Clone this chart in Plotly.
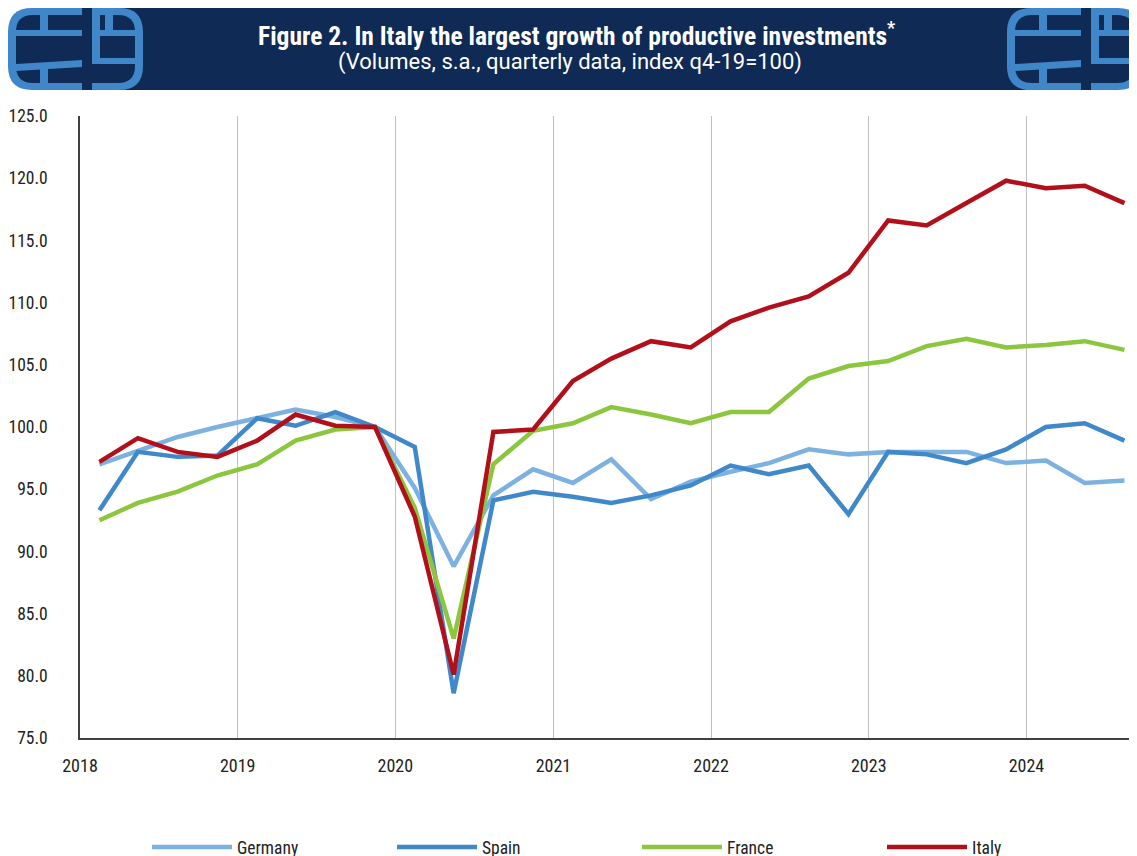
import plotly.graph_objects as go

# ---------------- data ----------------
quarters = ["2018Q1", "2018Q2", "2018Q3", "2018Q4",
            "2019Q1", "2019Q2", "2019Q3", "2019Q4",
            "2020Q1", "2020Q2", "2020Q3", "2020Q4",
            "2021Q1", "2021Q2", "2021Q3", "2021Q4",
            "2022Q1", "2022Q2", "2022Q3", "2022Q4",
            "2023Q1", "2023Q2", "2023Q3", "2023Q4",
            "2024Q1", "2024Q2", "2024Q3"]

germany = [97.0, 98.1, 99.2, 100.0, 100.7, 101.4, 100.8, 100.0,
           95.1, 88.8, 94.5, 96.6, 95.5, 97.4, 94.2, 95.6,
           96.4, 97.1, 98.2, 97.8, 98.0, 98.0, 98.0, 97.1,
           97.3, 95.5, 95.7]
spain = [93.3, 98.0, 97.6, 97.7, 100.7, 100.1, 101.2, 100.0,
         98.4, 78.6, 94.1, 94.8, 94.4, 93.9, 94.5, 95.3,
         96.9, 96.2, 96.9, 93.0, 98.0, 97.8, 97.1, 98.2,
         100.0, 100.3, 98.9]
france = [92.5, 93.9, 94.8, 96.1, 97.0, 98.9, 99.8, 100.0,
          93.5, 83.0, 97.0, 99.7, 100.3, 101.6, 101.0, 100.3,
          101.2, 101.2, 103.9, 104.9, 105.3, 106.5, 107.1, 106.4,
          106.6, 106.9, 106.2]
italy = [97.2, 99.1, 98.0, 97.6, 98.9, 101.0, 100.1, 100.0,
         92.8, 80.1, 99.6, 99.8, 103.7, 105.5, 106.9, 106.4,
         108.5, 109.6, 110.5, 112.4, 116.6, 116.2, 118.0, 119.8,
         119.2, 119.4, 118.0]

series_names = ["Germany", "Spain", "France", "Italy"]
year_ticks = ["2018", "2019", "2020", "2021", "2022", "2023", "2024"]

title_text = "Figure 2. In Italy the largest growth of productive investments<sup>*</sup>"
subtitle_text = "(Volumes, s.a., quarterly data, index q4-19=100)"

# ---------------- styling ----------------
COLORS = ["#7db2e0", "#3f88c9", "#8cc63f", "#b1101b"]
NAVY = "#0f2a55"
LOGO_BLUE = "#3f87c9"
FONT = "Liberation Sans Narrow, Roboto Condensed, Arial Narrow, Roboto, sans-serif"

# page body has an 8px margin: figure origin sits at screen (8, 8)
OFF = 8
W, H = 1129, 900
L, R, T, B = 72, 0, 108, 170
PW, PH = W - L - R, H - T - B


def px(x):  # screen x -> paper
    return (x - OFF - L) / PW


def py(y):  # screen y -> paper
    return (H - B - (y - OFF)) / PH


def q_mid(q):
    y, n = q.split("Q")
    return f"{y}-{3 * int(n) - 1:02d}-15"


xdates = [q_mid(q) for q in quarters]

fig = go.Figure()
for name, vals, col in zip(series_names, [germany, spain, france, italy], COLORS):
    fig.add_trace(go.Scatter(x=xdates, y=vals, mode="lines", name=name,
                             line=dict(color=col, width=4.5)))

shapes = []


def rect(x0, y0, x1, y1, color):
    shapes.append(dict(type="rect", xref="paper", yref="paper",
                       x0=px(x0), x1=px(x1), y0=py(y1), y1=py(y0),
                       fillcolor=color, line=dict(width=0), layer="above"))


def poly(points, color):
    d = "M" + " L".join(f"{px(a):.5f},{py(b):.5f}" for a, b in points) + " Z"
    shapes.append(dict(type="path", xref="paper", yref="paper", path=d,
                       fillcolor=color, line=dict(width=0), layer="above"))


def rrect(x0, y0, x1, y1, r, color):
    P = lambda a, b: f"{px(a):.5f},{py(b):.5f}"
    d = (f"M{P(x0 + r, y0)} L{P(x1 - r, y0)} Q{P(x1, y0)} {P(x1, y0 + r)} "
         f"L{P(x1, y1 - r)} Q{P(x1, y1)} {P(x1 - r, y1)} L{P(x0 + r, y1)} "
         f"Q{P(x0, y1)} {P(x0, y1 - r)} L{P(x0, y0 + r)} Q{P(x0, y0)} {P(x0 + r, y0)} Z")
    shapes.append(dict(type="path", xref="paper", yref="paper", path=d,
                       fillcolor=color, line=dict(width=0), layer="above"))


# header band
rect(60, 8, 1080, 90, NAVY)


def logo(ox):
    rrect(8 + ox, 8, 143 + ox, 90, 24, LOGO_BLUE)
    rrect(16 + ox, 15, 135 + ox, 83, 17, NAVY)
    # left half
    rect(40 + ox, 15, 48 + ox, 36, LOGO_BLUE)
    rect(16 + ox, 30, 82 + ox, 36, LOGO_BLUE)
    poly([(16 + ox, 64), (82 + ox, 60), (82 + ox, 67), (16 + ox, 71)], LOGO_BLUE)
    rect(40 + ox, 66, 48 + ox, 83, LOGO_BLUE)
    # right half
    rect(92 + ox, 15, 100 + ox, 64, LOGO_BLUE)
    rect(92 + ox, 30, 135 + ox, 36, LOGO_BLUE)
    rect(105 + ox, 15, 113 + ox, 30, LOGO_BLUE)
    rect(92 + ox, 58, 135 + ox, 64, LOGO_BLUE)
    # central gap
    rect(82 + ox, 8, 92 + ox, 90, NAVY)


logo(0)
logo(999)

annotations = [
    dict(text=f"<b>{title_text}</b>", x=px(576), y=py(34), xref="paper", yref="paper",
         showarrow=False, xanchor="center", yanchor="middle",
         font=dict(family=FONT, size=25.5, color="white")),
    dict(text=subtitle_text, x=px(570), y=py(62), xref="paper", yref="paper",
         showarrow=False, xanchor="center", yanchor="middle",
         font=dict(family="Roboto, sans-serif", size=22, color="white")),
]

fig.update_layout(
    width=W, height=H,
    margin=dict(l=L, r=R, t=T, b=B, autoexpand=False),
    paper_bgcolor="white", plot_bgcolor="white",
    font=dict(family=FONT, size=17, color="#222222"),
    shapes=shapes, annotations=annotations,
    showlegend=True,
    legend=dict(orientation="h", x=px(147), xanchor="left", y=py(847), yanchor="middle",
                font=dict(family=FONT, size=17.5, color="#222222"),
                entrywidth=150, entrywidthmode="pixels", itemwidth=80,
                bgcolor="rgba(0,0,0,0)"),
    xaxis=dict(type="date", range=["2018-01-01", "2024-09-13"],
               tickvals=[f"{y}-01-01" for y in year_ticks], ticktext=year_ticks,
               showgrid=True, gridcolor="#c0c0c0", gridwidth=1,
               showline=True, linecolor="#404040", linewidth=1.5,
               ticks="", ticklabelstandoff=11, zeroline=False, automargin=False,
               tickfont=dict(size=18)),
    yaxis=dict(range=[75, 125], tick0=75, dtick=5, tickformat=".1f",
               showgrid=False, showline=True, linecolor="#404040", linewidth=1.5,
               ticks="", ticklabelstandoff=27, zeroline=False, automargin=False,
               tickfont=dict(size=17.5)),
)

fig.write_html("out.html")
